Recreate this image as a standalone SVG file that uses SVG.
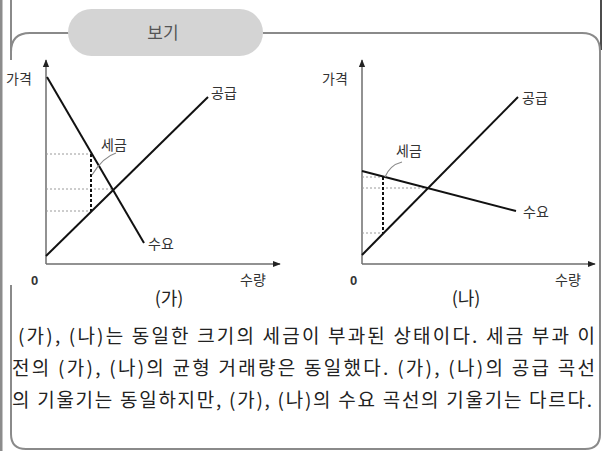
<svg xmlns="http://www.w3.org/2000/svg" width="611" height="451" viewBox="0 0 611 451">
<style>
  .frame{fill:none;stroke:#8a8a8a;stroke-width:2}
  .axis{fill:none;stroke:#6e6e6e;stroke-width:1.5}
  .curve{fill:none;stroke:#111;stroke-width:2}
  .guide{fill:none;stroke:#9a9a9a;stroke-width:1;stroke-dasharray:2 2}
  .tax{fill:none;stroke:#111;stroke-width:2;stroke-dasharray:3 2}
  .leader{fill:none;stroke:#8a8a8a;stroke-width:1.2}
  .lbl{font-family:"Noto Sans CJK KR","Noto Sans",sans-serif;font-size:14px;fill:#333}
  .zero{font-family:"Liberation Sans",Arial,sans-serif;font-size:13px;font-weight:bold;fill:#333}
  .cap{font-family:"Noto Sans CJK KR","Noto Sans",sans-serif;font-size:18px;fill:#222}
  .para{font-family:"Noto Sans CJK KR","Noto Sans",sans-serif;font-size:19px;fill:#222}
</style>
<defs>
  <marker id="arr" viewBox="0 0 10 10" refX="9" refY="5" markerWidth="8" markerHeight="8" markerUnits="userSpaceOnUse" orient="auto">
    <path d="M0,1 L10,5 L0,9 Z" fill="#222"/>
  </marker>
</defs>
<rect width="611" height="451" fill="#fff"/>
<g id="frame">
  <rect x="0" y="0" width="2.5" height="451" fill="#8c8c8c"/>
  <line x1="11" y1="0" x2="11" y2="60" class="frame"/>
  <line x1="601" y1="0" x2="601" y2="50" stroke="#111" stroke-width="1.5"/>
  <path class="frame" d="M11,52 Q11,33 30,33 L70,33"/>
  <path class="frame" d="M263,33 L582,33 Q600,33 600,51 L600,434 Q600,449 585,449 L26,449 Q11,449 11,434 L11,285"/>
  <rect x="68" y="9" width="195" height="47" rx="23.5" fill="#d4d4d4"/>
  <text x="163" y="39" text-anchor="middle" font-family="'Noto Sans CJK KR','Noto Sans',sans-serif" font-size="17" fill="#555">보기</text>
</g>
<g id="graph-ga">
  <line x1="46" y1="264" x2="46" y2="60" class="axis" marker-end="url(#arr)"/>
  <line x1="46" y1="264" x2="280" y2="264" class="axis" marker-end="url(#arr)"/>
  <text x="6" y="84" class="lbl">가격</text>
  <text x="31" y="285" class="zero">0</text>
  <text x="240" y="285" class="lbl">수량</text>
  <text x="169" y="305" text-anchor="middle" class="cap">(가)</text>
  <line x1="46" y1="154" x2="91" y2="154" class="guide"/>
  <line x1="46" y1="189" x2="113" y2="189" class="guide"/>
  <line x1="46" y1="211" x2="91" y2="211" class="guide"/>
  <line x1="91" y1="154" x2="91" y2="211" class="tax"/>
  <line x1="47" y1="77" x2="144" y2="243" class="curve"/>
  <line x1="46" y1="256" x2="208" y2="97" class="curve"/>
  <path d="M92,175 Q103,157 116,153" class="leader"/>
  <text x="101" y="150" class="lbl">세금</text>
  <text x="211" y="98" class="lbl">공급</text>
  <text x="148" y="249" class="lbl">수요</text>
</g>
<g id="graph-na">
  <line x1="362" y1="264" x2="362" y2="60" class="axis" marker-end="url(#arr)"/>
  <line x1="362" y1="264" x2="595" y2="264" class="axis" marker-end="url(#arr)"/>
  <text x="322" y="84" class="lbl">가격</text>
  <text x="350" y="285" class="zero">0</text>
  <text x="555" y="285" class="lbl">수량</text>
  <text x="466" y="305" text-anchor="middle" class="cap">(나)</text>
  <line x1="362" y1="177" x2="383" y2="177" class="guide"/>
  <line x1="362" y1="188" x2="428" y2="188" class="guide"/>
  <line x1="362" y1="233" x2="383" y2="233" class="guide"/>
  <line x1="383" y1="177" x2="383" y2="233" class="tax"/>
  <line x1="362" y1="171" x2="516" y2="211" class="curve"/>
  <line x1="362" y1="255" x2="518" y2="97" class="curve"/>
  <path d="M385,177 Q390,165 402,162" class="leader"/>
  <text x="396" y="156" class="lbl">세금</text>
  <text x="522" y="103" class="lbl">공급</text>
  <text x="523" y="217" class="lbl">수요</text>
</g>
<g id="description">
  <text x="18" y="343" class="para" textLength="577" lengthAdjust="spacing">(가), (나)는 동일한 크기의 세금이 부과된 상태이다. 세금 부과 이</text>
  <text x="12" y="375" class="para" textLength="583" lengthAdjust="spacing">전의 (가), (나)의 균형 거래량은 동일했다. (가), (나)의 공급 곡선</text>
  <text x="12" y="407" class="para" textLength="580" lengthAdjust="spacing">의 기울기는 동일하지만, (가), (나)의 수요 곡선의 기울기는 다르다.</text>
</g>
</svg>
